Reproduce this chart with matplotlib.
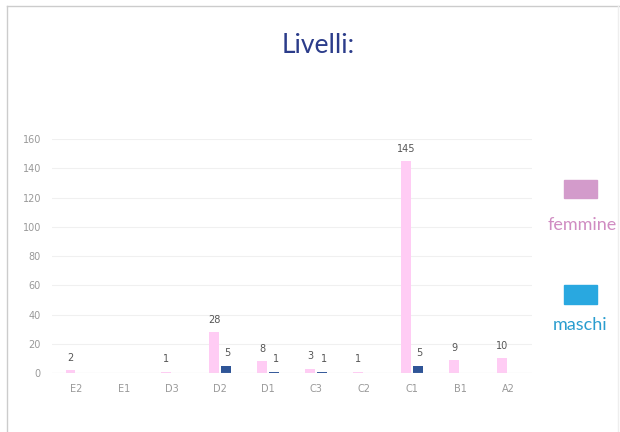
import matplotlib.pyplot as plt
import numpy as np

livelli = ["E2", "E1", "D3", "D2", "D1", "C3", "C2", "C1", "B1", "A2"]
femmine = [2, 0, 1, 28, 8, 3, 1, 145, 9, 10]
maschi = [0, 0, 0, 5, 1, 1, 0, 5, 0, 0]
# labels shown only where a value exists
femmine_lab = [True, False, True, True, True, True, True, True, True, True]
maschi_lab = [False, False, False, True, True, True, False, True, False, False]

fig = plt.figure(figsize=(6.2, 4.32), dpi=100)
ax = fig.add_axes([0.084, 0.1366, 0.774, 0.5414])

x = np.arange(len(livelli))
w = 0.2
b1 = ax.bar(x - 0.12, femmine, w, color="#FFCCF4")
b2 = ax.bar(x + 0.12, maschi, w, color="#2F5597")

for i in range(len(livelli)):
    if femmine_lab[i]:
        ax.text(x[i] - 0.12, femmine[i] + 5, str(femmine[i]), ha="center", va="bottom",
                fontsize=7, color="#555555")
    if maschi_lab[i]:
        ax.text(x[i] + 0.16, maschi[i] + 5, str(maschi[i]), ha="center", va="bottom",
                fontsize=7, color="#555555")

ax.set_xlim(-0.5, len(livelli) - 0.5)
ax.set_ylim(0, 160)
ax.set_yticks(range(0, 161, 20))
ax.set_xticks(x)
ax.set_xticklabels(livelli)
ax.tick_params(axis="both", length=0, labelsize=7, colors="#999999", pad=8)
ax.yaxis.grid(True, color="#F0F0F0", linewidth=0.8)
ax.set_axisbelow(True)
for s in ax.spines.values():
    s.set_visible(False)
ax.axhline(0, color="#E0E0E0", linewidth=0.8)

fig.text(0.513, 0.895, "Livelli:", ha="center", va="center", fontsize=19,
         color="#2B3C8A", family="Lato")

# legend drawn by hand on the right
fig.patches.append(plt.Rectangle((564 / 620, 1 - 198 / 432), 33 / 620, 18 / 432,
                                 transform=fig.transFigure, color="#D39BCB"))
fig.text(582 / 620, 1 - 225 / 432, "femmine", ha="center", va="center", fontsize=13,
         color="#D08CC2", family="Lato")
fig.patches.append(plt.Rectangle((564 / 620, 1 - 304 / 432), 33 / 620, 19 / 432,
                                 transform=fig.transFigure, color="#29A8E0"))
fig.text(580 / 620, 1 - 325 / 432, "maschi", ha="center", va="center", fontsize=13,
         color="#2A9DCF", family="Lato")

# frame
fig.add_artist(plt.Line2D([7 / 620, 7 / 620], [0, 1 - 6 / 432], transform=fig.transFigure,
                          color="#CCCCCC", linewidth=1))
fig.add_artist(plt.Line2D([7 / 620, 1], [1 - 6 / 432, 1 - 6 / 432], transform=fig.transFigure,
                          color="#CCCCCC", linewidth=1))
fig.add_artist(plt.Line2D([618 / 620, 618 / 620], [0, 1 - 6 / 432], transform=fig.transFigure,
                          color="#EEEEEE", linewidth=1))

fig.savefig("out.png", dpi=100)
